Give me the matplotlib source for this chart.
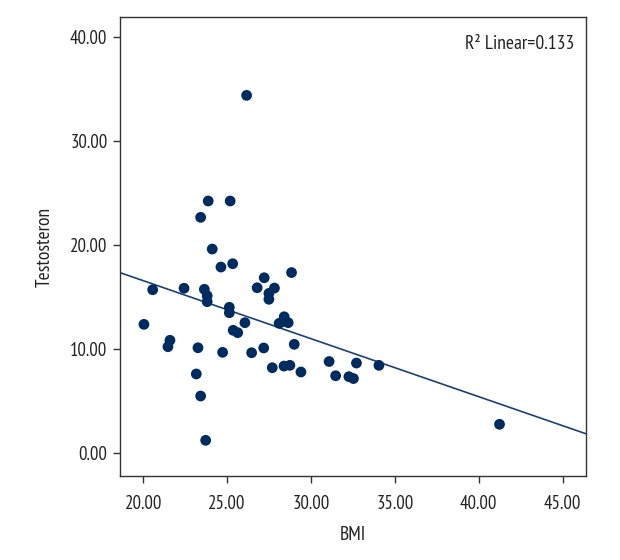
import matplotlib
matplotlib.use("Agg")
import matplotlib.pyplot as plt
from matplotlib import font_manager as fm
import numpy as np

_avail = set(f.name for f in fm.fontManager.ttflist)
_fams = [f for f in ['PT Sans Narrow', 'Fira Sans Condensed', 'Roboto Condensed',
                     'Asap Condensed', 'Archivo Narrow'] if f in _avail]
plt.rcParams['font.family'] = _fams[:1] + ['DejaVu Sans']

bmi = [20.04, 20.56, 21.47, 21.59, 22.43, 23.16, 23.26, 23.42, 23.72, 23.42,
       23.87, 23.64, 23.81, 23.81, 24.11, 24.63, 24.73, 25.18, 25.13, 25.13,
       25.33, 25.36, 25.63, 26.06, 26.16, 26.46, 26.79, 27.18, 27.21, 27.49,
       27.49, 27.82, 27.69, 28.10, 28.31, 28.40, 28.64, 28.39, 28.74, 28.84,
       29.00, 29.40, 31.08, 31.47, 32.26, 32.53, 32.71, 34.05, 41.24]
testosteron = [12.40, 15.73, 10.25, 10.87, 15.87, 7.63, 10.15, 5.51, 1.25, 22.69,
               24.26, 15.77, 15.15, 14.58, 19.64, 17.91, 9.71, 24.26, 14.04, 13.52,
               18.23, 11.83, 11.60, 12.56, 34.42, 9.67, 15.92, 10.13, 16.88, 15.38,
               14.81, 15.89, 8.23, 12.50, 12.65, 13.13, 12.56, 8.39, 8.46, 17.38,
               10.48, 7.82, 8.83, 7.46, 7.37, 7.19, 8.68, 8.46, 2.79]
fit_intercept = 27.75
fit_slope = -0.5576
r2_text = "R² Linear=0.133"
xticks = [20, 25, 30, 35, 40, 45]
yticks = [0, 10, 20, 30, 40]

fig = plt.figure(figsize=(6.2, 5.6), dpi=100)
ax = fig.add_axes([0.1935, 0.15, 0.7515, 0.8196])
xlim = (18.61, 46.39)
ylim = (-2.18, 41.95)
ax.set_xlim(*xlim)
ax.set_ylim(*ylim)

navy = '#002b5e'
ax.scatter(bmi, testosteron, s=60, color=navy, edgecolors='none', zorder=3)
xs = np.array(xlim)
ax.plot(xs, fit_intercept + fit_slope * xs, color='#1a4275', lw=1.2, zorder=2)

ax.set_xticks(xticks)
ax.set_yticks(yticks)
ax.set_xticklabels([f"{v:.2f}" for v in xticks])
ax.set_yticklabels([f"{v:.2f}" for v in yticks])
ax.tick_params(direction='out', length=5, width=1, color='#333333',
               labelsize=13.5, labelcolor='#222222', pad=4)
ax.tick_params(axis='x', pad=9)
for s in ax.spines.values():
    s.set_color('#333333')
    s.set_linewidth(1.0)

ax.set_xlabel('BMI', fontsize=14, color='#222222', labelpad=9)
ax.set_ylabel('Testosteron', fontsize=14, color='#222222', labelpad=12)
ax.text(0.975, 0.96, r2_text, transform=ax.transAxes, ha='right', va='top',
        fontsize=14, color='#222222')

fig.savefig('out.png', dpi=100, facecolor='white')
